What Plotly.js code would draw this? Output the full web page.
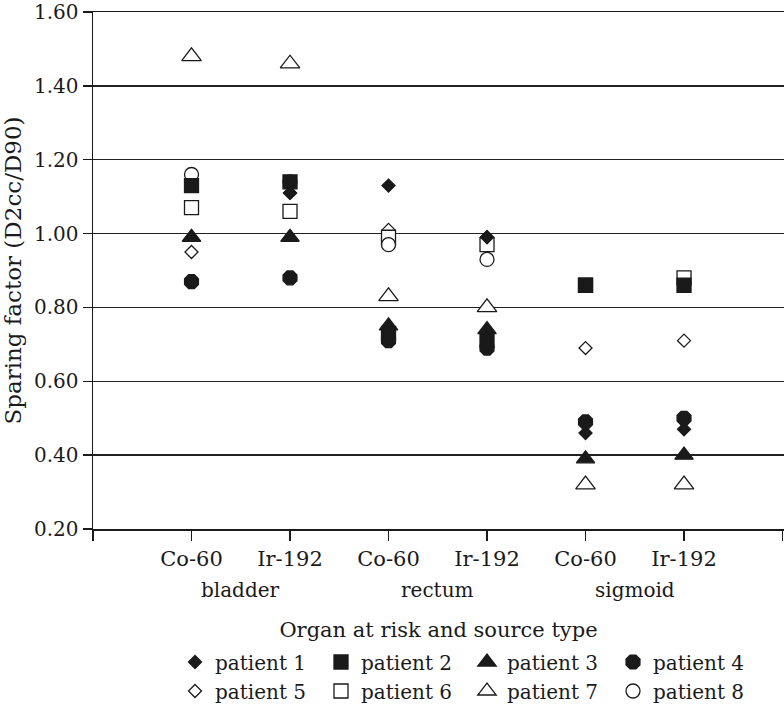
<!DOCTYPE html>
<html>
<head>
<meta charset="utf-8">
<script src="https://cdn.plot.ly/plotly-3.0.1.min.js"></script>
<style>html,body{margin:0;padding:0;background:#fff;}#chart{width:784px;height:710px;}</style>
</head>
<body>
<div id="chart"></div>
<script>
// Category positions and labels
var categoryPos = [0, 1, 2, 3, 4, 5];
var sourceLabels = ["Co-60", "Ir-192", "Co-60", "Ir-192", "Co-60", "Ir-192"];
var organLabels = ["bladder", "rectum", "sigmoid"];
var organPos = [0.5, 2.5, 4.5];
var yTickVals = [0.2, 0.4, 0.6, 0.8, 1.0, 1.2, 1.4, 1.6];
var yTickText = ["0.20", "0.40", "0.60", "0.80", "1.00", "1.20", "1.40", "1.60"];

// Sparing factor values (bladder Co-60, bladder Ir-192, rectum Co-60, rectum Ir-192, sigmoid Co-60, sigmoid Ir-192)
var patient1 = [1.13, 1.11, 1.13, 0.99, 0.46, 0.47];
var patient2 = [1.13, 1.14, 0.73, 0.71, 0.86, 0.86];
var patient3 = [0.99, 0.99, 0.75, 0.74, 0.39, 0.40];
var patient4 = [0.87, 0.88, 0.71, 0.69, 0.49, 0.50];
var patient5 = [0.95, 1.11, 1.01, 0.99, 0.69, 0.71];
var patient6 = [1.07, 1.06, 0.99, 0.97, 0.86, 0.88];
var patient7 = [1.48, 1.46, 0.83, 0.80, 0.32, 0.32];
var patient8 = [1.16, 1.14, 0.97, 0.93, null, null];

var FONT = "DejaVu Serif";
var INK = "#1a1a1a";

function tr(name, y, symbol, size, fill, legend) {
  return {
    type: "scatter", mode: "markers", name: name,
    x: categoryPos, y: y,
    legend: legend,
    marker: {symbol: symbol, size: size, color: fill, line: {color: INK, width: 1.3}},
    hoverinfo: "name+y"
  };
}

var data = [
  tr("patient 5", patient5, "diamond", 10, "#fff", "legend2"),
  tr("patient 6", patient6, "square", 14, "#fff", "legend2"),
  tr("patient 7", patient7, "triangle-up", 17, "#fff", "legend2"),
  tr("patient 8", patient8, "circle", 14, "#fff", "legend2"),
  tr("patient 1", patient1, "diamond", 10, INK, "legend"),
  tr("patient 2", patient2, "square", 14, INK, "legend"),
  tr("patient 3", patient3, "triangle-up", 16, INK, "legend"),
  tr("patient 4", patient4, "octagon", 15, INK, "legend")
];

var annotations = organLabels.map(function(t, i) {
  return {text: t, x: organPos[i], xref: "x", y: -0.118, yref: "paper",
          xanchor: "center", yanchor: "middle", showarrow: false,
          font: {family: FONT, size: 20, color: INK}};
});

var legendCommon = {
  orientation: "h", xref: "container", yref: "container",
  xanchor: "left", yanchor: "middle",
  entrywidth: 101, entrywidthmode: "pixels",
  itemwidth: 30, traceorder: "normal",
  font: {family: FONT, size: 20, color: INK},
  bgcolor: "rgba(0,0,0,0)", borderwidth: 0
};

var layout = {
  width: 784, height: 710,
  margin: {l: 93, r: 0, t: 12, b: 181},
  paper_bgcolor: "#fff", plot_bgcolor: "#fff",
  font: {family: FONT, size: 20, color: INK},
  xaxis: {
    range: [-1, 6.015], tickmode: "array",
    tickvals: [-1, 0, 1, 2, 3, 4, 5, 6],
    ticktext: [""].concat(sourceLabels).concat([""]),
    ticks: "outside", ticklen: 10, tickwidth: 1.3, tickcolor: INK,
    showline: true, linecolor: INK, linewidth: 1.5, mirror: true,
    showgrid: false, zeroline: false,
    tickfont: {family: FONT, size: 21, color: INK},
    title: {text: "Organ at risk and source type", standoff: 52,
            font: {family: FONT, size: 21, color: INK}}
  },
  yaxis: {
    range: [0.2, 1.6], tickmode: "array",
    tickvals: yTickVals, ticktext: yTickText,
    ticklabeloverflow: "allow",
    ticks: "outside", ticklen: 9, tickwidth: 1.3, tickcolor: INK,
    showline: true, linecolor: INK, linewidth: 1.5, mirror: true,
    showgrid: true, gridcolor: "#222", gridwidth: 1.5, zeroline: false,
    tickfont: {family: FONT, size: 20, color: INK},
    title: {text: "Sparing factor (D2cc/D90)", standoff: 10,
            font: {family: FONT, size: 23, color: INK}}
  },
  legend: Object.assign({}, legendCommon, {x: 175 / 784, y: 1 - 662 / 710}),
  legend2: Object.assign({}, legendCommon, {x: 175 / 784, y: 1 - 691 / 710}),
  annotations: annotations,
  showlegend: true
};

Plotly.newPlot("chart", data, layout, {displayModeBar: false, staticPlot: true});
</script>
</body>
</html>
